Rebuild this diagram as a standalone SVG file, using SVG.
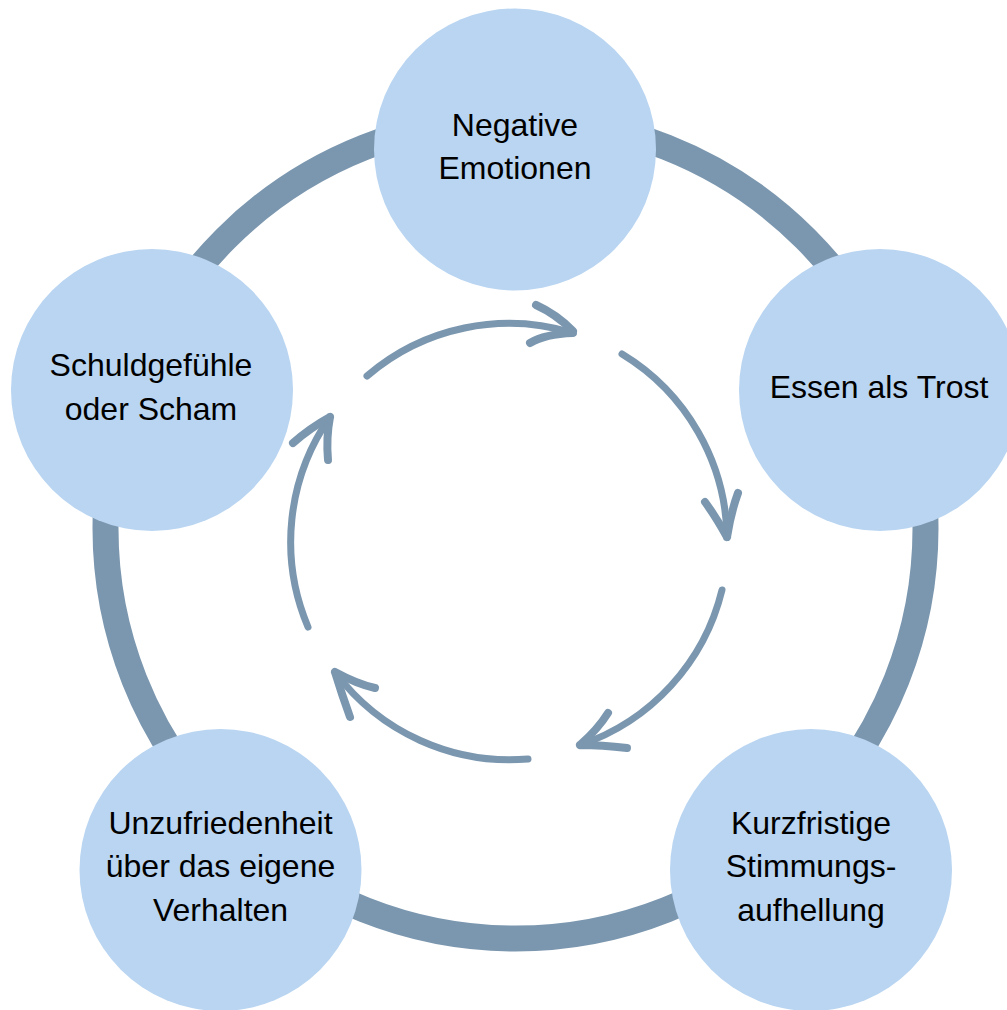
<svg xmlns="http://www.w3.org/2000/svg" width="1007" height="1010" viewBox="0 0 1007 1010">
<style>
.node{fill:#b9d5f1}
.lbl{font-family:"Liberation Sans",Arial,sans-serif;font-size:32px;fill:#000;text-anchor:middle}
.arc{fill:none;stroke:#7b97af;stroke-width:7;stroke-linecap:round;stroke-linejoin:round}
.head{stroke-width:8}
</style>
<rect width="1007" height="1010" fill="#fff"/>
<circle cx="515.5" cy="528.5" r="410" fill="none" stroke="#7b97af" stroke-width="26"/>
<g id="n1"><circle class="node" cx="515" cy="149.5" r="141"/><text class="lbl" x="515" y="136">Negative</text><text class="lbl" x="515" y="179">Emotionen</text></g>
<g id="n2"><circle class="node" cx="880" cy="390" r="141"/><text class="lbl" x="879" y="398">Essen als Trost</text></g>
<g id="n3"><circle class="node" cx="811" cy="870" r="141"/><text class="lbl" x="811" y="834">Kurzfristige</text><text class="lbl" x="811" y="877">Stimmungs-</text><text class="lbl" x="811" y="921">aufhellung</text></g>
<g id="n4"><circle class="node" cx="220.5" cy="870" r="141"/><text class="lbl" x="220.5" y="834">Unzufriedenheit</text><text class="lbl" x="220.5" y="877">über das eigene</text><text class="lbl" x="220.5" y="921">Verhalten</text></g>
<g id="n5"><circle class="node" cx="152" cy="390" r="141"/><text class="lbl" x="151" y="376">Schuldgefühle</text><text class="lbl" x="151" y="420">oder Scham</text></g>
<g id="connectors" class="arc">
<path d="M367,376 A218,218 0 0 1 573,333"/>
<path class="head" d="M536,305 Q556,314 573,331 M530,343 Q545,334 573,333"/>
<path d="M622,354 A218,218 0 0 1 727,537"/>
<path class="head" d="M705,502 Q716,517 727,537 M738,493 Q731,512 727,537"/>
<path d="M722,590 A218,218 0 0 1 580,745"/>
<path class="head" d="M608,713 Q598,729 580,745 M627,748 Q602,745 580,745"/>
<path d="M528,759 A218,218 0 0 1 335,672"/>
<path class="head" d="M375,688 Q357,684 335,672 M350,717 Q342,695 335,672"/>
<path d="M308,627 A218,218 0 0 1 330,417"/>
<path class="head" d="M293,443 Q310,428 330,417 M328,460 Q326,438 330,417"/>
</g>
</svg>
